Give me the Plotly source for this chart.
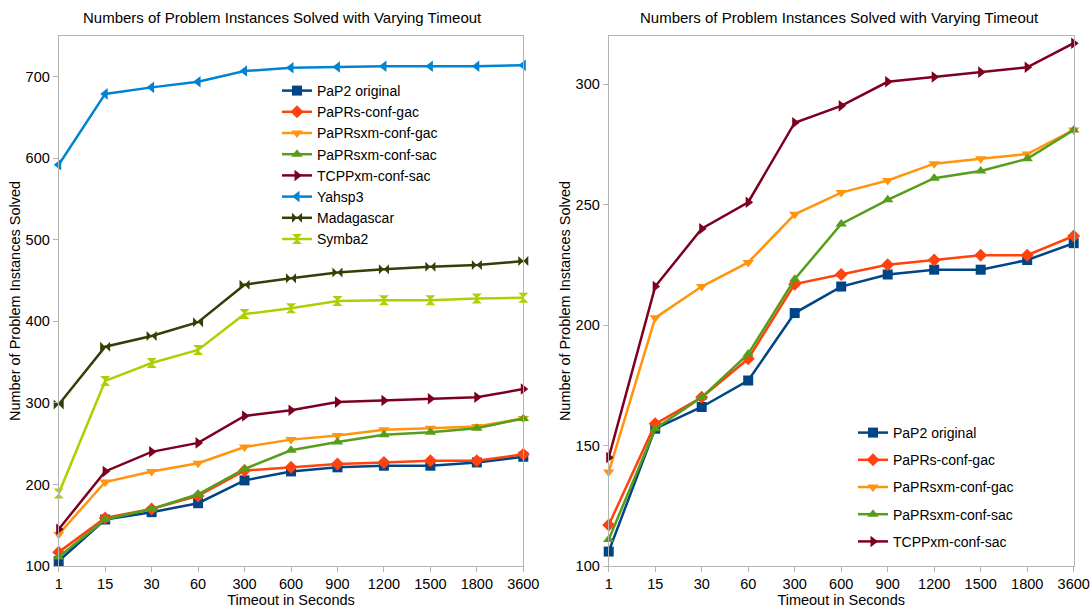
import plotly.graph_objects as go

timeouts = ["1", "15", "30", "60", "300", "600", "900", "1200", "1500", "1800", "3600"]

pap2_original = [106, 157, 166, 177, 205, 216, 221, 223, 223, 227, 234]
paprs_conf_gac = [117, 159, 170, 186, 217, 221, 225, 227, 229, 229, 237]
paprsxm_conf_gac = [139, 203, 216, 226, 246, 255, 260, 267, 269, 271, 281]
paprsxm_conf_sac = [111, 157, 170, 188, 219, 242, 252, 261, 264, 269, 281]
tcppxm_conf_sac = [145, 216, 240, 251, 284, 291, 301, 303, 305, 307, 317]
yahsp3 = [592, 679, 687, 694, 707, 711, 712, 713, 713, 713, 714]
madagascar = [298, 369, 382, 399, 445, 453, 460, 464, 467, 469, 474]
symba2 = [189, 327, 349, 365, 409, 416, 425, 426, 426, 428, 429]

ours = [
    ("PaP2 original", pap2_original, "#004586", "square"),
    ("PaPRs-conf-gac", paprs_conf_gac, "#ff420e", "diamond"),
    ("PaPRsxm-conf-gac", paprsxm_conf_gac, "#ff950e", "triangle-down"),
    ("PaPRsxm-conf-sac", paprsxm_conf_sac, "#579d1c", "triangle-up"),
    ("TCPPxm-conf-sac", tcppxm_conf_sac, "#7e0021", "triangle-right"),
]
others = [
    ("Yahsp3", yahsp3, "#0084d1", "triangle-left"),
    ("Madagascar", madagascar, "#314004", "bowtie"),
    ("Symba2", symba2, "#aecf00", "hourglass"),
]

fig = go.Figure()
FONT = "Liberation Sans, Arial, sans-serif"

for i, (name, vals, col, sym) in enumerate(ours + others):
    fig.add_trace(go.Scatter(
        x=timeouts, y=vals, name=name, mode="lines+markers",
        line=dict(color=col, width=2.5),
        marker=dict(symbol=sym, size=10, color=col),
        xaxis="x", yaxis="y", legend="legend", legendgroup="L%d" % i,
        cliponaxis=False,
    ))

for i, (name, vals, col, sym) in enumerate(ours):
    fig.add_trace(go.Scatter(
        x=timeouts, y=vals, name=name, mode="lines+markers",
        line=dict(color=col, width=2.5),
        marker=dict(symbol=sym, size=10, color=col),
        xaxis="x2", yaxis="y2", legend="legend2", legendgroup="R%d" % i,
        cliponaxis=False,
    ))

W, H = 1091, 608
def fx(px):
    return px / W
def fy(py):
    return 1 - py / H

axis_common = dict(
    showline=True, linecolor="#b3b3b3", linewidth=1, mirror=True,
    ticks="outside", ticklen=5, tickcolor="#b3b3b3",
    showgrid=False, zeroline=False,
    tickfont=dict(family=FONT, size=14.5, color="#000"),
    automargin=False,
)

fig.update_layout(
    width=W, height=H,
    margin=dict(l=0, r=0, t=0, b=0),
    paper_bgcolor="white", plot_bgcolor="white",
    font=dict(family=FONT, size=14.5, color="#000"),
    showlegend=True,
    xaxis=dict(domain=[fx(58.7), fx(523.3)], type="category", range=[0, 10],
               title=dict(text="Timeout in Seconds", font=dict(size=14.5), standoff=2),
               anchor="y", **axis_common),
    yaxis=dict(domain=[fy(566), fy(36)], range=[100, 750], dtick=100,
               title=dict(text="Number of Problem Instances Solved", font=dict(size=14.5), standoff=1),
               anchor="x", **axis_common),
    xaxis2=dict(domain=[fx(608.7), fx(1073.7)], type="category", range=[0, 10],
                title=dict(text="Timeout in Seconds", font=dict(size=14.5), standoff=2),
                anchor="y2", **axis_common),
    yaxis2=dict(domain=[fy(566), fy(36)], range=[100, 320], dtick=50,
                title=dict(text="Number of Problem Instances Solved", font=dict(size=14.5), standoff=1),
                anchor="x2", **axis_common),
    legend=dict(x=fx(277), y=fy(75), xanchor="left", yanchor="top",
                bgcolor="rgba(0,0,0,0)", font=dict(size=14), tracegroupgap=0,
                itemwidth=30),
    legend2=dict(x=fx(853), y=fy(417), xanchor="left", yanchor="top",
                 bgcolor="rgba(0,0,0,0)", font=dict(size=14), tracegroupgap=6,
                 itemwidth=30),
    annotations=[
        dict(text="Numbers of Problem Instances Solved with Varying Timeout",
             x=fx(282), y=fy(18), xref="paper", yref="paper", showarrow=False,
             font=dict(size=15, family=FONT), xanchor="center", yanchor="middle"),
        dict(text="Numbers of Problem Instances Solved with Varying Timeout",
             x=fx(839), y=fy(18), xref="paper", yref="paper", showarrow=False,
             font=dict(size=15, family=FONT), xanchor="center", yanchor="middle"),
    ],
)

fig.write_html("out.html")
